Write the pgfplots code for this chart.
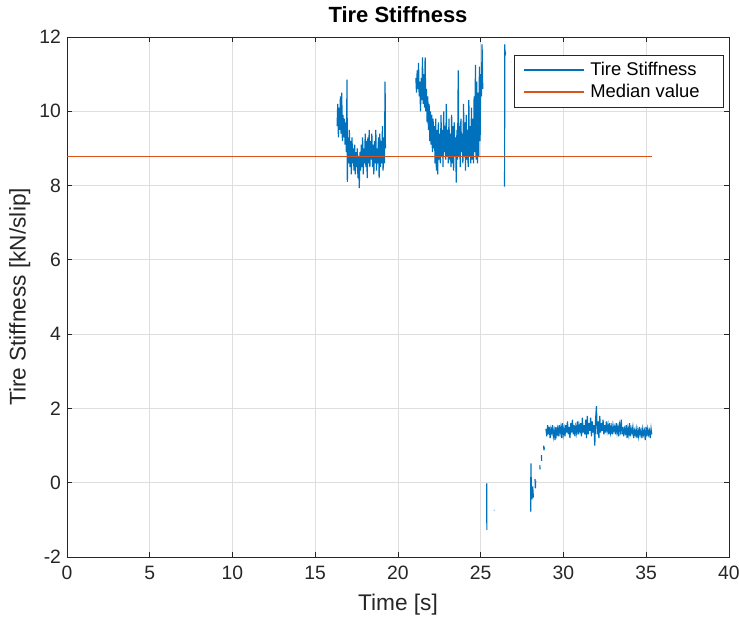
\documentclass[border=0pt]{standalone}
\usepackage{fontspec}
\setmainfont{Liberation Sans}
\usepackage{pgfplots}
\pgfplotsset{compat=1.18}
\definecolor{mblue}{rgb}{0,0.447,0.741}
\definecolor{morange}{rgb}{0.85,0.325,0.098}
\definecolor{maxis}{rgb}{0.15,0.15,0.15}
\definecolor{mgrid}{rgb}{0.87,0.87,0.87}
\begin{document}
\begin{tikzpicture}
\begin{axis}[
  name=ax,
  scale only axis,
  width=496.5pt, height=390pt,
  xmin=0, xmax=40, ymin=-2, ymax=12,
  xtick={0,5,...,40}, ytick={-2,0,...,12},
  tick pos=both, tick align=inside,
  major tick length=3.75pt,
  axis line style={maxis, line width=0.6pt},
  every tick/.style={maxis, line width=0.6pt},
  grid=major,
  major grid style={mgrid, line width=0.6pt},
  /pgf/number format/assume math mode=true,
  ticklabel style={font=\fontsize{14.5}{16}\selectfont, text=maxis},
  xticklabel style={yshift=-3pt},
  yticklabel style={xshift=-1pt},
  xlabel={Time [s]},
  ylabel={Tire Stiffness [kN/slip]},
  label style={font=\fontsize{17}{19}\selectfont, text=maxis},
  xlabel style={yshift=-4pt},
  ylabel style={yshift=0pt},
  title={\textbf{Tire Stiffness}},
  title style={font=\fontsize{16.5}{18}\selectfont, yshift=1.5pt},
  unbounded coords=jump,
  legend style={at={(rel axis cs:0.992,0.966)}, anchor=north east,
    draw=maxis, line width=0.6pt, font=\fontsize{13.8}{16}\selectfont,
    inner xsep=7pt, inner ysep=3.5pt, row sep=1pt},
  legend cell align=left,
  legend image code/.code={\draw[#1, line width=1pt] (0pt,0pt) -- (45pt,0pt);},
]
\addplot[mblue, line width=0.9pt] coordinates {
(16.32,9.6)(16.36,10.2)(16.40,9.3)(16.44,10.1)(16.48,9.5)(16.52,10.4)(16.56,9.4)(16.60,10.5)(16.64,9.2)(16.68,9.9)
(16.72,9.3)(16.76,9.8)(16.80,9.1)(16.84,9.7)(16.88,8.9)(16.92,10.85)(16.94,8.1)(16.98,9.3)(17.02,8.6)(17.06,9.5)
(17.10,8.5)(17.14,9.2)(17.18,8.3)(17.22,9.3)(17.26,8.6)(17.30,9.0)(17.34,8.4)(17.38,9.1)(17.42,8.3)(17.46,8.9)
(17.50,8.5)(17.54,9.0)(17.58,8.2)(17.62,8.8)(17.66,7.93)(17.70,8.9)(17.74,8.4)(17.78,9.1)(17.82,8.5)(17.86,9.3)
(17.90,8.3)(17.94,9.0)(17.98,8.6)(18.02,9.4)(18.06,8.5)(18.10,9.2)(18.14,8.2)(18.18,9.3)(18.22,8.6)(18.26,9.5)
(18.30,8.5)(18.34,9.2)(18.38,8.7)(18.42,9.4)(18.46,8.5)(18.50,9.1)(18.54,8.3)(18.58,9.2)(18.62,8.6)(18.66,9.5)
(18.70,8.4)(18.74,9.0)(18.78,8.6)(18.82,9.3)(18.86,8.2)(18.90,9.4)(18.94,8.5)(18.98,9.2)(19.02,8.6)(19.06,9.6)
(19.10,8.4)(19.14,9.3)(19.18,8.6)(19.22,10.8)(19.24,9.0)
(19.25,nan)
(21.08,10.9)(21.12,10.5)(21.16,11.1)(21.20,10.6)(21.24,11.3)(21.28,10.4)(21.32,10.8)(21.36,10.0)(21.40,10.9)(21.44,10.3)
(21.48,11.45)(21.52,10.2)(21.56,11.0)(21.60,10.1)(21.64,11.45)(21.68,10.0)(21.72,10.6)(21.76,9.7)(21.80,10.4)(21.84,9.5)
(21.88,10.2)(21.92,9.2)(21.96,10.0)(22.00,9.1)(22.04,9.9)(22.08,8.9)(22.12,9.8)(22.16,9.0)(22.20,9.6)(22.24,8.6)
(22.28,9.8)(22.32,8.4)(22.36,9.5)(22.40,8.3)(22.44,9.7)(22.48,8.7)(22.52,9.4)(22.56,8.6)(22.60,9.9)(22.64,8.8)
(22.68,9.5)(22.72,8.5)(22.76,10.0)(22.80,8.9)(22.84,9.6)(22.88,8.7)(22.92,10.2)(22.96,8.8)(23.00,9.5)(23.04,8.6)
(23.08,9.8)(23.12,8.7)(23.16,9.4)(23.20,8.5)(23.24,9.9)(23.28,8.6)(23.32,9.6)(23.36,8.4)(23.40,9.7)(23.44,8.8)
(23.48,9.3)(23.52,8.08)(23.56,9.5)(23.60,8.7)(23.64,11.1)(23.68,8.8)(23.72,9.6)(23.76,8.5)(23.80,9.8)(23.84,8.9)
(23.88,9.4)(23.92,8.6)(23.96,10.2)(24.00,8.8)(24.04,9.7)(24.08,8.4)(24.12,9.9)(24.16,8.7)(24.20,9.5)(24.24,8.5)
(24.28,10.3)(24.32,8.8)(24.36,9.6)(24.40,8.6)(24.44,10.1)(24.48,8.7)(24.52,9.8)(24.56,8.6)(24.60,10.4)(24.64,8.9)
(24.68,11.25)(24.72,8.7)(24.76,10.8)(24.80,8.6)(24.84,10.5)(24.88,8.8)(24.92,11.2)(24.96,9.2)(25.00,11.0)(25.04,10.4)
(25.08,11.8)(25.12,10.6)
(25.2,nan)
(25.36,-0.02)(25.37,-1.27)
(25.5,nan)
(25.80,-0.74)(25.83,-0.74)
(26.0,nan)
(26.44,7.97)(26.45,11.8)(26.47,11.5)(26.50,11.6)
(26.6,nan)
(26.82,11.33)(26.84,11.33)
(27.0,nan)
(28.02,-0.78)(28.03,0.52)(28.06,-0.2)(28.10,-0.45)(28.14,-0.1)(28.18,-0.4)
(28.22,nan)
(28.28,0.1)(28.30,-0.15)(28.32,0.05)
(28.4,nan)
(28.57,0.47)(28.58,0.36)
(28.62,nan)
(28.67,0.74)(28.68,0.59)
(28.72,nan)
(28.80,1.0)(28.82,0.87)(28.84,0.95)
(28.88,nan)
(28.94,1.45)(28.99,1.25)(29.04,1.55)(29.09,1.30)(29.14,1.50)(29.19,1.20)(29.24,1.45)(29.29,1.35)(29.34,1.55)(29.39,1.25)
(29.44,1.40)(29.49,1.15)(29.54,1.50)(29.59,1.30)(29.64,1.45)(29.69,1.25)(29.74,1.55)(29.79,1.35)(29.84,1.50)(29.89,1.20)
(29.94,1.60)(29.99,1.30)(30.04,1.45)(30.09,1.25)(30.14,1.55)(30.19,1.35)(30.24,1.65)(30.29,1.30)(30.34,1.50)(30.39,1.20)
(30.44,1.60)(30.49,1.35)(30.54,1.70)(30.59,1.30)(30.64,1.55)(30.69,1.25)(30.74,1.50)(30.79,1.35)(30.84,1.65)(30.89,1.30)
(30.94,1.55)(30.99,1.40)(31.04,1.60)(31.09,1.25)(31.14,1.75)(31.19,1.35)(31.24,1.55)(31.29,1.30)(31.34,1.70)(31.39,1.20)
(31.44,1.80)(31.49,1.30)(31.54,1.60)(31.59,1.40)(31.64,1.75)(31.69,1.25)(31.74,1.65)(31.79,1.35)(31.84,1.55)(31.89,1.00)
(31.94,1.70)(31.99,2.06)(32.04,1.30)(32.09,1.65)(32.14,1.20)(32.19,1.80)(32.24,1.35)(32.29,1.60)(32.34,1.40)(32.39,1.70)
(32.44,1.30)(32.49,1.55)(32.54,1.35)(32.59,1.65)(32.64,1.40)(32.69,1.55)(32.74,1.30)(32.79,1.60)(32.84,1.35)(32.89,1.50)
(32.94,1.30)(32.99,1.55)(33.04,1.40)(33.09,1.50)(33.14,1.30)(33.19,1.60)(33.24,1.35)(33.29,1.50)(33.34,1.25)(33.39,1.55)
(33.44,1.40)(33.49,1.70)(33.54,1.30)(33.59,1.50)(33.64,1.25)(33.69,1.45)(33.74,1.35)(33.79,1.55)(33.84,1.20)(33.89,1.45)
(33.94,1.30)(33.99,1.60)(34.04,1.25)(34.09,1.45)(34.14,1.35)(34.19,1.50)(34.24,1.20)(34.29,1.40)(34.34,1.30)(34.39,1.45)
(34.44,1.20)(34.49,1.40)(34.54,1.25)(34.59,1.50)(34.64,1.30)(34.69,1.40)(34.74,1.20)(34.79,1.45)(34.84,1.30)(34.89,1.40)
(34.94,1.15)(34.99,1.50)(35.04,1.25)(35.09,1.45)(35.14,1.30)(35.19,1.40)(35.24,1.20)(35.29,1.45)(35.33,1.30)
};
\addlegendentry{\hspace*{2pt}Tire Stiffness\rule{11pt}{0pt}}
\addplot[morange, line width=1pt] coordinates {(0,8.78)(35.33,8.78)};
\addlegendentry{\hspace*{2pt}Median value}
\end{axis}
\pgfresetboundingbox
\path (ax.south west) ++(-50.25pt,-48pt) coordinate (bl);
\path (ax.north east) ++(7.5pt,27.75pt) coordinate (tr);
\path (bl) rectangle (tr);
\end{tikzpicture}
\end{document}
